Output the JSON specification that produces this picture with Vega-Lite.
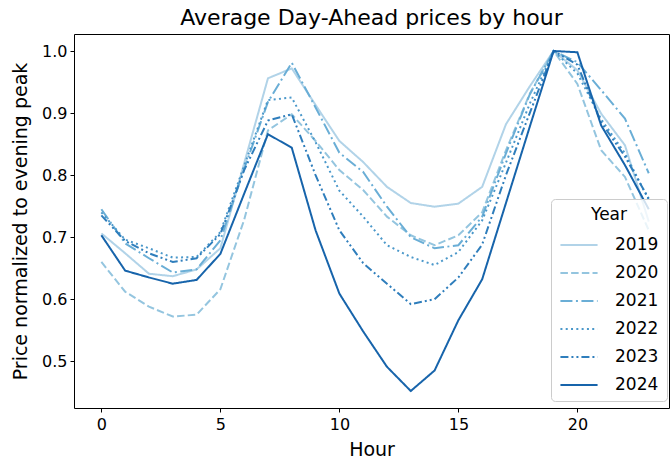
{
  "$schema": "https://vega.github.io/schema/vega-lite/v6.json",
  "width": 595,
  "height": 374,
  "autosize": {"type": "none"},
  "padding": {"left": 74, "top": 34, "right": 2, "bottom": 58},
  "title": {"text": "Average Day-Ahead prices by hour", "fontSize": 22, "fontWeight": "normal", "font": "DejaVu Sans", "color": "black", "anchor": "middle", "offset": 4},
  "datasets": {
    "prices": [
      {"year":"2019","hour":0,"price":0.706},{"year":"2019","hour":1,"price":0.674},{"year":"2019","hour":2,"price":0.641},{"year":"2019","hour":3,"price":0.637},{"year":"2019","hour":4,"price":0.648},{"year":"2019","hour":5,"price":0.682},{"year":"2019","hour":6,"price":0.819},{"year":"2019","hour":7,"price":0.956},{"year":"2019","hour":8,"price":0.972},{"year":"2019","hour":9,"price":0.913},{"year":"2019","hour":10,"price":0.855},{"year":"2019","hour":11,"price":0.821},{"year":"2019","hour":12,"price":0.781},{"year":"2019","hour":13,"price":0.755},{"year":"2019","hour":14,"price":0.749},{"year":"2019","hour":15,"price":0.754},{"year":"2019","hour":16,"price":0.781},{"year":"2019","hour":17,"price":0.882},{"year":"2019","hour":18,"price":0.943},{"year":"2019","hour":19,"price":1.0},{"year":"2019","hour":20,"price":0.969},{"year":"2019","hour":21,"price":0.899},{"year":"2019","hour":22,"price":0.848},{"year":"2019","hour":23,"price":0.725},
      {"year":"2020","hour":0,"price":0.660},{"year":"2020","hour":1,"price":0.612},{"year":"2020","hour":2,"price":0.588},{"year":"2020","hour":3,"price":0.572},{"year":"2020","hour":4,"price":0.575},{"year":"2020","hour":5,"price":0.616},{"year":"2020","hour":6,"price":0.728},{"year":"2020","hour":7,"price":0.872},{"year":"2020","hour":8,"price":0.898},{"year":"2020","hour":9,"price":0.855},{"year":"2020","hour":10,"price":0.808},{"year":"2020","hour":11,"price":0.776},{"year":"2020","hour":12,"price":0.733},{"year":"2020","hour":13,"price":0.703},{"year":"2020","hour":14,"price":0.687},{"year":"2020","hour":15,"price":0.703},{"year":"2020","hour":16,"price":0.740},{"year":"2020","hour":17,"price":0.840},{"year":"2020","hour":18,"price":0.931},{"year":"2020","hour":19,"price":1.0},{"year":"2020","hour":20,"price":0.947},{"year":"2020","hour":21,"price":0.840},{"year":"2020","hour":22,"price":0.797},{"year":"2020","hour":23,"price":0.711},
      {"year":"2021","hour":0,"price":0.745},{"year":"2021","hour":1,"price":0.690},{"year":"2021","hour":2,"price":0.666},{"year":"2021","hour":3,"price":0.643},{"year":"2021","hour":4,"price":0.648},{"year":"2021","hour":5,"price":0.695},{"year":"2021","hour":6,"price":0.810},{"year":"2021","hour":7,"price":0.918},{"year":"2021","hour":8,"price":0.981},{"year":"2021","hour":9,"price":0.909},{"year":"2021","hour":10,"price":0.836},{"year":"2021","hour":11,"price":0.805},{"year":"2021","hour":12,"price":0.749},{"year":"2021","hour":13,"price":0.700},{"year":"2021","hour":14,"price":0.682},{"year":"2021","hour":15,"price":0.687},{"year":"2021","hour":16,"price":0.733},{"year":"2021","hour":17,"price":0.835},{"year":"2021","hour":18,"price":0.930},{"year":"2021","hour":19,"price":1.0},{"year":"2021","hour":20,"price":0.982},{"year":"2021","hour":21,"price":0.937},{"year":"2021","hour":22,"price":0.891},{"year":"2021","hour":23,"price":0.803},
      {"year":"2022","hour":0,"price":0.740},{"year":"2022","hour":1,"price":0.696},{"year":"2022","hour":2,"price":0.682},{"year":"2022","hour":3,"price":0.667},{"year":"2022","hour":4,"price":0.668},{"year":"2022","hour":5,"price":0.708},{"year":"2022","hour":6,"price":0.815},{"year":"2022","hour":7,"price":0.921},{"year":"2022","hour":8,"price":0.925},{"year":"2022","hour":9,"price":0.853},{"year":"2022","hour":10,"price":0.775},{"year":"2022","hour":11,"price":0.733},{"year":"2022","hour":12,"price":0.687},{"year":"2022","hour":13,"price":0.668},{"year":"2022","hour":14,"price":0.655},{"year":"2022","hour":15,"price":0.676},{"year":"2022","hour":16,"price":0.727},{"year":"2022","hour":17,"price":0.820},{"year":"2022","hour":18,"price":0.915},{"year":"2022","hour":19,"price":1.0},{"year":"2022","hour":20,"price":0.964},{"year":"2022","hour":21,"price":0.890},{"year":"2022","hour":22,"price":0.835},{"year":"2022","hour":23,"price":0.760},
      {"year":"2023","hour":0,"price":0.735},{"year":"2023","hour":1,"price":0.694},{"year":"2023","hour":2,"price":0.674},{"year":"2023","hour":3,"price":0.660},{"year":"2023","hour":4,"price":0.666},{"year":"2023","hour":5,"price":0.705},{"year":"2023","hour":6,"price":0.808},{"year":"2023","hour":7,"price":0.888},{"year":"2023","hour":8,"price":0.898},{"year":"2023","hour":9,"price":0.800},{"year":"2023","hour":10,"price":0.711},{"year":"2023","hour":11,"price":0.658},{"year":"2023","hour":12,"price":0.625},{"year":"2023","hour":13,"price":0.592},{"year":"2023","hour":14,"price":0.600},{"year":"2023","hour":15,"price":0.635},{"year":"2023","hour":16,"price":0.688},{"year":"2023","hour":17,"price":0.800},{"year":"2023","hour":18,"price":0.900},{"year":"2023","hour":19,"price":1.0},{"year":"2023","hour":20,"price":0.978},{"year":"2023","hour":21,"price":0.885},{"year":"2023","hour":22,"price":0.830},{"year":"2023","hour":23,"price":0.762},
      {"year":"2024","hour":0,"price":0.703},{"year":"2024","hour":1,"price":0.646},{"year":"2024","hour":2,"price":0.635},{"year":"2024","hour":3,"price":0.625},{"year":"2024","hour":4,"price":0.631},{"year":"2024","hour":5,"price":0.673},{"year":"2024","hour":6,"price":0.770},{"year":"2024","hour":7,"price":0.866},{"year":"2024","hour":8,"price":0.844},{"year":"2024","hour":9,"price":0.711},{"year":"2024","hour":10,"price":0.609},{"year":"2024","hour":11,"price":0.548},{"year":"2024","hour":12,"price":0.491},{"year":"2024","hour":13,"price":0.452},{"year":"2024","hour":14,"price":0.485},{"year":"2024","hour":15,"price":0.566},{"year":"2024","hour":16,"price":0.632},{"year":"2024","hour":17,"price":0.755},{"year":"2024","hour":18,"price":0.878},{"year":"2024","hour":19,"price":1.0},{"year":"2024","hour":20,"price":0.998},{"year":"2024","hour":21,"price":0.880},{"year":"2024","hour":22,"price":0.816},{"year":"2024","hour":23,"price":0.745}
    ]
  },
  "data": {"name": "prices"},
  "mark": {"type": "line", "strokeWidth": 2, "clip": true},
  "encoding": {
    "x": {
      "field": "hour", "type": "quantitative",
      "scale": {"domain": [-1.15, 23.85], "nice": false, "zero": false},
      "axis": {"title": "Hour", "values": [0, 5, 10, 15, 20], "format": "d"}
    },
    "y": {
      "field": "price", "type": "quantitative",
      "scale": {"domain": [0.4246, 1.0274], "nice": false, "zero": false},
      "axis": {"title": "Price normalized to evening peak", "values": [0.5, 0.6, 0.7, 0.8, 0.9, 1.0], "format": ".1f"}
    },
    "color": {
      "field": "year", "type": "nominal", "title": "Year",
      "scale": {"domain": ["2019","2020","2021","2022","2023","2024"], "range": ["#b1d3e8","#94c5df","#6aaed6","#4b98ca","#2f7ebc","#1764ab"]}
    },
    "strokeDash": {
      "field": "year", "type": "nominal", "title": "Year",
      "scale": {"domain": ["2019","2020","2021","2022","2023","2024"], "range": [[1,0],[7.5,3.2],[12,3.5,2,3.5],[2,3.3],[8,3,2,3,2,3],[1,0]]}
    }
  },
  "config": {
    "font": "DejaVu Sans",
    "view": {"stroke": "black", "strokeWidth": 1},
    "axis": {
      "grid": false, "domain": false, "ticks": true, "tickColor": "black", "tickSize": 4, "tickWidth": 1,
      "labelFontSize": 16, "labelColor": "black", "labelPadding": 3,
      "titleFontSize": 19, "titleFontWeight": "normal", "titleColor": "black"
    },
    "axisX": {"titlePadding": 8, "labelPadding": 4},
    "axisY": {"titlePadding": 11},
    "legend": {
      "orient": "none", "legendX": 477, "legendY": 165,
      "direction": "vertical",
      "fillColor": "rgba(255,255,255,0.8)", "strokeColor": "#cccccc", "cornerRadius": 4,
      "padding": 8,
      "titleFontSize": 17, "titleFontWeight": "normal", "titleColor": "black", "titleAnchor": "middle", "titlePadding": 1,
      "labelFontSize": 17, "labelColor": "black", "labelOffset": 16,
      "symbolType": "stroke", "symbolSize": 1380, "symbolStrokeWidth": 2, "rowPadding": 0
    }
  }
}
